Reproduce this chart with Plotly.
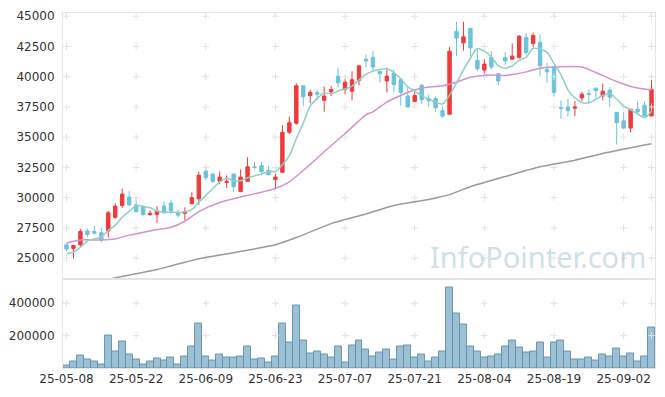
import plotly.graph_objects as go
from plotly.subplots import make_subplots
import pandas as pd

dates = [
    "25-05-08", "25-05-09", "25-05-12", "25-05-13", "25-05-14", "25-05-15", "25-05-16",
    "25-05-19", "25-05-20", "25-05-21", "25-05-22", "25-05-23", "25-05-26", "25-05-27",
    "25-05-28", "25-05-29", "25-05-30", "25-06-02", "25-06-04", "25-06-05", "25-06-09",
    "25-06-10", "25-06-11", "25-06-12", "25-06-13", "25-06-16", "25-06-17", "25-06-18",
    "25-06-19", "25-06-20", "25-06-23", "25-06-24", "25-06-25", "25-06-26", "25-06-27",
    "25-06-30", "25-07-01", "25-07-02", "25-07-03", "25-07-04", "25-07-07", "25-07-08",
    "25-07-09", "25-07-10", "25-07-11", "25-07-14", "25-07-15", "25-07-16", "25-07-17",
    "25-07-18", "25-07-21", "25-07-22", "25-07-23", "25-07-24", "25-07-25", "25-07-28",
    "25-07-29", "25-07-30", "25-07-31", "25-08-01", "25-08-04", "25-08-05", "25-08-06",
    "25-08-07", "25-08-08", "25-08-11", "25-08-12", "25-08-13", "25-08-14", "25-08-18",
    "25-08-19", "25-08-20", "25-08-21", "25-08-22", "25-08-25", "25-08-26", "25-08-27",
    "25-08-28", "25-08-29", "25-09-01", "25-09-02", "25-09-03", "25-09-04", "25-09-05",
    "25-09-08",
]

open_ = [26100, 25800, 26100, 27250, 27200, 27100, 27250, 28350, 29350, 30050,
         29400, 29250, 28600, 28600, 29300, 29550, 28700, 28700, 29500, 29900,
         32200, 31950, 31350, 31250, 31950, 30500, 31350, 32550, 32650, 32250,
         31500, 32100, 35400, 36150, 39250, 38450, 38700, 38050, 38750, 40050,
         38950, 38800, 39700, 41450, 41600, 40450, 39650, 40300, 39750, 38400,
         37950, 39300, 38200, 38200, 37200, 36900, 43750, 42800, 44000, 41350,
         40550, 41600, 40250, 41600, 41450, 41600, 43250, 42750, 42850, 40600,
         40800, 37450, 37500, 37400, 38250, 38600, 39050, 38400, 38900, 37050,
         36350, 35750, 37300, 37650, 36750]
high = [26200, 26100, 27400, 27450, 27650, 27500, 28900, 29550, 30750, 30550,
        30050, 29350, 28950, 29300, 29700, 29800, 29000, 29200, 30450, 32150,
        32450, 32000, 32150, 31850, 31950, 32330, 33350, 32950, 32950, 32600,
        32000, 36000, 36700, 39450, 39250, 38900, 38900, 39200, 39250, 40750,
        39850, 40450, 40900, 41850, 42100, 40450, 40750, 40600, 39800, 39150,
        38950, 39400, 38500, 38400, 37550, 42450, 44550, 44550, 44000, 42300,
        41450, 42100, 40250, 42050, 42750, 43450, 43600, 43650, 43500, 41150,
        40800, 38050, 38200, 38000, 38750, 38950, 39100, 39450, 39150, 37050,
        37100, 37350, 37950, 37950, 39950]
low = [25550, 24950, 25950, 26750, 26950, 26300, 26700, 28300, 29150, 29350,
       28750, 28500, 28500, 27900, 28650, 28650, 28350, 28150, 29450, 29400,
       31450, 31200, 31100, 30800, 30450, 30450, 31300, 32350, 31850, 31850,
       30700, 32050, 35250, 36050, 37600, 37800, 38050, 37100, 38400, 39150,
       38550, 38050, 39300, 40800, 40450, 39500, 38700, 38700, 37600, 37500,
       37900, 37750, 37500, 37100, 36600, 36900, 41700, 42150, 41600, 40450,
       40250, 40600, 39300, 40950, 41450, 41500, 41750, 42450, 40050, 39500,
       38350, 36500, 36700, 36750, 38000, 37800, 38200, 38050, 37500, 34400,
       35700, 35400, 36950, 36700, 36750]
close = [25750, 26050, 27200, 26950, 27050, 26500, 28750, 29300, 30300, 29400,
         28850, 28600, 28700, 28900, 28850, 28900, 28550, 28850, 30000, 31850,
         31650, 31350, 31700, 31350, 30900, 31700, 32550, 32500, 32150, 31900,
         31700, 35400, 36200, 39250, 38350, 38700, 38550, 38400, 38950, 39500,
         39550, 39750, 40900, 41300, 40800, 40250, 40050, 39350, 38700, 37500,
         38450, 38100, 38000, 37450, 36750, 42100, 43200, 43300, 42400, 40650,
         41050, 40800, 39650, 41300, 41700, 43350, 42000, 43400, 40900, 40400,
         38700, 37400, 37200, 37500, 38550, 38550, 38850, 38800, 38300, 36200,
         35750, 37300, 37100, 36750, 38950]
volume = [17000, 38000, 79000, 50000, 38000, 20000, 201000, 105000, 161000, 81000,
          50000, 20000, 38000, 60000, 44000, 66000, 20000, 72000, 130000, 277000,
          72000, 44000, 81000, 63000, 68000, 74000, 136000, 50000, 56000, 32000,
          74000, 277000, 155000, 388000, 173000, 87000, 99000, 83000, 63000, 130000,
          32000, 142000, 173000, 112000, 74000, 93000, 112000, 50000, 130000, 142000,
          63000, 81000, 38000, 63000, 99000, 498000, 338000, 271000, 136000, 105000,
          63000, 74000, 81000, 136000, 167000, 124000, 93000, 105000, 155000, 63000,
          155000, 167000, 99000, 50000, 50000, 63000, 44000, 81000, 74000, 118000,
          74000, 87000, 38000, 74000, 253000]

# first MA5 values (earlier closes are not shown)
ma5_head = [25350, 25500, 25900, 26400]

# MA20 and MA60 at these bar indices
ma20_idx = [0, 2, 5, 7, 9, 12, 15, 17, 19, 22, 25, 28, 30, 32, 35, 37, 40, 43,
            44, 46, 48, 50, 52, 54, 56, 58, 61, 63, 66, 68, 70, 74, 76, 79, 81, 84]
ma20_val = [26250, 26500, 26500, 26600, 26900, 27250, 27550, 28050, 28850, 29600,
            30050, 30450, 30750, 31300, 32750, 33800, 35300, 36850, 37100, 37900,
            38450, 38900, 39150, 39250, 39550, 39950, 40150, 40100, 40400, 40700,
            40800, 40800, 40350, 39600, 39200, 38900]
ma60_idx = [6, 13, 15, 19, 24, 30, 33, 38, 43, 47, 52, 55, 58, 63, 68, 73, 77, 84]
ma60_val = [23250, 24050, 24350, 24950, 25450, 26100, 26700, 27850, 28650, 29350,
            29850, 30250, 30900, 31750, 32550, 33100, 33650, 34450]

price_ticks = [25000, 27500, 30000, 32500, 35000, 37500, 40000, 42500, 45000]
vol_ticks = [200000, 400000]
label_idx = [0, 10, 20, 30, 40, 50, 60, 70, 80]

UP = "#ee3b3b"
DOWN = "#6cc3da"
FONT = "DejaVu Sans"

ma5 = pd.Series(close, dtype=float).rolling(5).mean().tolist()
ma5[:4] = ma5_head

fig = make_subplots(rows=2, cols=1, shared_xaxes=True, vertical_spacing=0,
                    row_heights=[0.7507, 0.2493])

# grid "+" marks
cross_x = [dates[i] for i in label_idx + [84]]
cross_marker = dict(symbol="cross-thin", size=5, line=dict(width=1, color="#e2e2e2"))
fig.add_trace(go.Scatter(
    x=[x for x in cross_x for _ in price_ticks],
    y=[y for _ in cross_x for y in price_ticks],
    mode="markers", hoverinfo="skip", showlegend=False, marker=cross_marker),
    row=1, col=1)
fig.add_trace(go.Scatter(
    x=[x for x in cross_x for _ in vol_ticks],
    y=[y for _ in cross_x for y in vol_ticks],
    mode="markers", hoverinfo="skip", showlegend=False, marker=cross_marker),
    row=2, col=1)

fig.add_trace(go.Scatter(
    x=[dates[i] for i in ma60_idx], y=ma60_val, mode="lines",
    line=dict(color="#9a9a9a", width=1.5, shape="spline", smoothing=0.6),
    showlegend=False), row=1, col=1)
fig.add_trace(go.Scatter(
    x=[dates[i] for i in ma20_idx], y=ma20_val, mode="lines",
    line=dict(color="#d193cc", width=1.5, shape="spline", smoothing=0.6),
    showlegend=False), row=1, col=1)
fig.add_trace(go.Scatter(
    x=dates, y=ma5, mode="lines",
    line=dict(color="#8fd0c6", width=1.5, shape="spline", smoothing=0.8),
    showlegend=False), row=1, col=1)

fig.add_trace(go.Candlestick(
    x=dates, open=open_, high=high, low=low, close=close,
    increasing=dict(line=dict(color=UP, width=1), fillcolor=UP),
    decreasing=dict(line=dict(color=DOWN, width=1), fillcolor=DOWN),
    showlegend=False), row=1, col=1)

fig.add_trace(go.Bar(
    x=dates, y=volume, width=1,
    marker=dict(color="rgba(122,170,196,0.75)",
                line=dict(color="rgba(95,145,172,0.9)", width=1)),
    showlegend=False), row=2, col=1)

axis_common = dict(showgrid=False, zeroline=False, showline=True, mirror=True,
                   linecolor="#e4e4e4", linewidth=1,
                   tickfont=dict(family=FONT, size=12, color="#333333"))

fig.update_xaxes(type="category", categoryorder="array", categoryarray=dates,
                 range=[-0.5, 84.5], rangeslider_visible=False,
                 tickmode="array", tickvals=[dates[i] for i in label_idx],
                 ticktext=[dates[i] for i in label_idx], ticks="",
                 tickangle=0, **axis_common)
fig.update_xaxes(showticklabels=False, row=1, col=1)
fig.update_yaxes(range=[23230, 45270], tickmode="array", tickvals=price_ticks,
                 ticktext=[str(v) for v in price_ticks],
                 ticks="outside", ticklen=5, tickcolor="rgba(0,0,0,0)",
                 row=1, col=1, **axis_common)
fig.update_yaxes(range=[0, 547000], tickmode="array", tickvals=vol_ticks,
                 ticktext=[str(v) for v in vol_ticks],
                 ticks="outside", ticklen=5, tickcolor="rgba(0,0,0,0)",
                 row=2, col=1, **axis_common)

fig.add_annotation(text="InfoPointer.com", xref="paper", yref="paper",
                   x=0.8025, y=0.3145, xanchor="center", yanchor="middle",
                   showarrow=False,
                   font=dict(family="Noto Sans", size=29, color="rgba(165,197,215,0.55)"))

fig.update_layout(width=665, height=397, margin=dict(l=61, r=9, t=11, b=29),
                  paper_bgcolor="white", plot_bgcolor="white", bargap=0,
                  hovermode=False)

fig.write_html("out.html", config={"displayModeBar": False},
               post_script="document.body.style.margin='0';document.body.style.overflow='hidden';")
